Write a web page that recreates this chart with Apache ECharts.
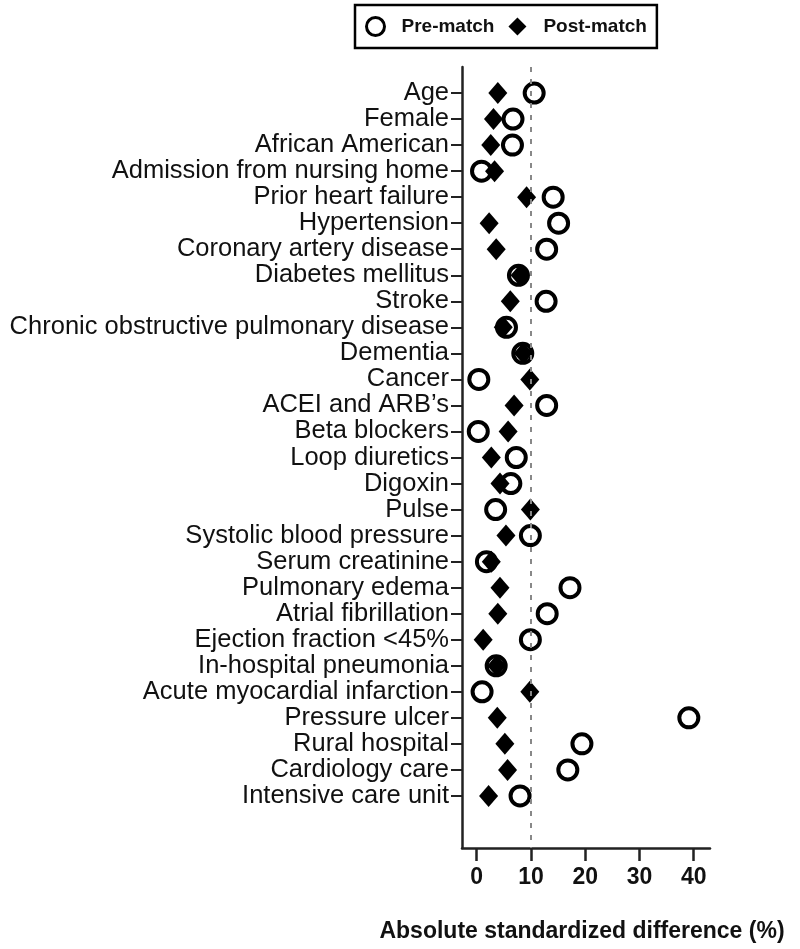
<!DOCTYPE html>
<html>
<head>
<meta charset="utf-8">
<script src="https://cdn.jsdelivr.net/npm/echarts@6/dist/echarts.min.js"></script>
<style>
  html, body { margin: 0; padding: 0; background: #fff; }
  #chart { width: 800px; height: 949px; }
</style>
</head>
<body>
<div id="chart"></div>
<script>
// 变量名称
const categories = [
  'Age', 'Female', 'African American', 'Admission from nursing home',
  'Prior heart failure', 'Hypertension', 'Coronary artery disease',
  'Diabetes mellitus', 'Stroke', 'Chronic obstructive pulmonary disease',
  'Dementia', 'Cancer', 'ACEI and ARB\u2019s', 'Beta blockers',
  'Loop diuretics', 'Digoxin', 'Pulse', 'Systolic blood pressure',
  'Serum creatinine', 'Pulmonary edema', 'Atrial fibrillation',
  'Ejection fraction <45%', 'In-hospital pneumonia',
  'Acute myocardial infarction', 'Pressure ulcer', 'Rural hospital',
  'Cardiology care', 'Intensive care unit'
];
// 匹配前
const preMatch = [
  10.6, 6.7, 6.6, 0.9, 14.1, 15.1, 12.9, 7.7, 12.8, 5.5,
  8.5, 0.4, 12.9, 0.3, 7.3, 6.3, 3.5, 9.9, 1.8, 17.2,
  13.0, 9.9, 3.6, 1.0, 39.1, 19.4, 16.8, 8.0
];
// 匹配后
const postMatch = [
  3.9, 3.1, 2.6, 3.3, 9.2, 2.3, 3.6, 8.0, 6.2, 4.9,
  8.6, 9.8, 6.9, 5.8, 2.7, 4.3, 9.9, 5.4, 2.7, 4.3,
  3.9, 1.2, 3.7, 9.8, 3.8, 5.2, 5.7, 2.2
];
const xTicks = [0, 10, 20, 30, 40];

const chart = echarts.init(document.getElementById('chart'));
const rows = categories.map((c, i) => i + 1);
const font = 'Liberation Sans, Arial, sans-serif';

let option = {
  animation: false,
  backgroundColor: '#fff',
  legend: {
    left: 355,
    top: 5,
    padding: [11, 10, 11, 10],
    borderColor: '#000',
    borderWidth: 2.5,
    itemGap: 14,
    itemWidth: 18,
    itemHeight: 18,
    textStyle: {
      fontFamily: font,
      fontWeight: 'bold',
      fontSize: 19,
      color: '#111',
      padding: [0, 0, 0, 12]
    },
    data: [
      { name: 'Pre-match', itemStyle: { color: '#fff', borderColor: '#000', borderWidth: 3 } },
      { name: 'Post-match' }
    ]
  },
  grid: {
    left: 462,
    right: 90,
    top: 67,
    bottom: 101,
    outerBoundsMode: 'none'
  },
  xAxis: {
    type: 'value',
    min: -2.7,
    max: 43,
    name: 'Absolute standardized difference (%)',
    nameLocation: 'middle',
    nameGap: 72,
    nameTextStyle: {
      fontFamily: font,
      fontWeight: 'bold',
      fontSize: 23,
      color: '#111',
      padding: [0, 8, 0, 0]
    },
    axisLine: { show: true, onZero: false, lineStyle: { color: '#222', width: 2.5 } },
    axisTick: { show: true, length: 13, customValues: xTicks, lineStyle: { color: '#222', width: 2.5 } },
    axisLabel: {
      customValues: xTicks,
      margin: 18,
      fontFamily: font,
      fontWeight: 'bold',
      fontSize: 23,
      color: '#111'
    },
    splitLine: { show: false }
  },
  yAxis: {
    type: 'value',
    inverse: true,
    min: 0,
    max: 30,
    axisLine: { show: true, onZero: false, lineStyle: { color: '#222', width: 2.5 } },
    axisTick: { show: true, length: 11, customValues: rows, lineStyle: { color: '#222', width: 2 } },
    axisLabel: {
      customValues: rows,
      margin: 13,
      fontFamily: font,
      fontSize: 25.5,
      color: '#111',
      formatter: function (v) {
        return categories[v - 1] || '';
      }
    },
    splitLine: { show: false }
  },
  series: [
    {
      name: 'Pre-match',
      type: 'scatter',
      symbol: 'circle',
      symbolSize: 19,
      itemStyle: { color: '#fff', borderColor: '#000', borderWidth: 4, opacity: 1 },
      data: preMatch.map((v, i) => [v, i + 1]),
      markLine: {
        silent: true,
        symbol: 'none',
        label: { show: false },
        lineStyle: { color: '#888', width: 2, type: [5, 7] },
        data: [{ xAxis: 10 }]
      },
      z: 2
    },
    {
      name: 'Post-match',
      type: 'scatter',
      symbol: 'diamond',
      symbolSize: [19, 22],
      itemStyle: { color: '#000', opacity: 1 },
      data: postMatch.map((v, i) => [v, i + 1]),
      z: 3
    }
  ]
};

chart.setOption(option);
</script>
</body>
</html>
